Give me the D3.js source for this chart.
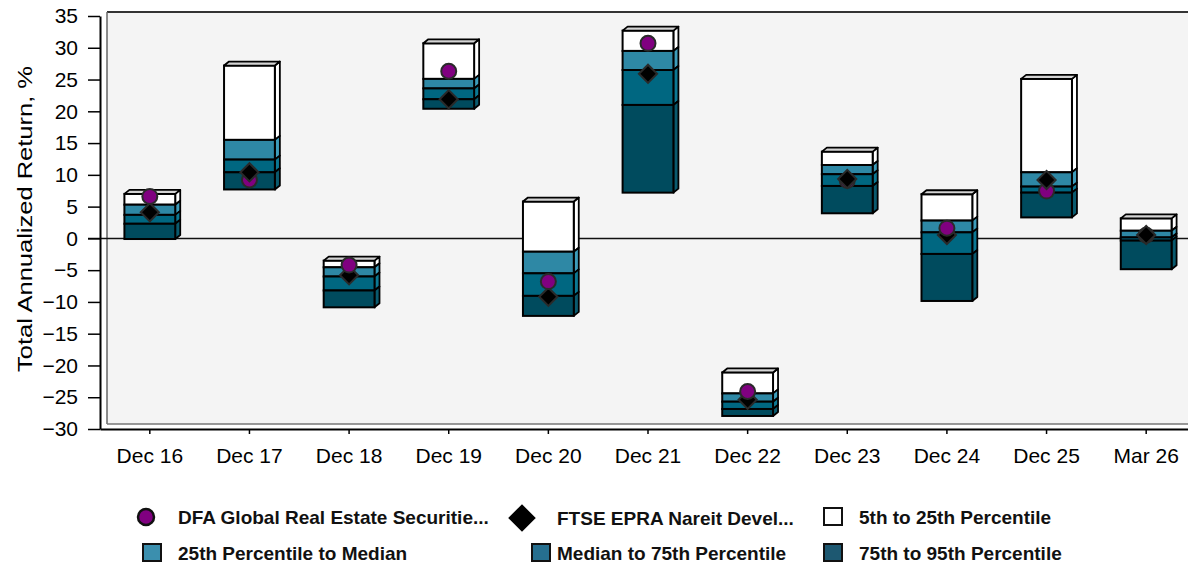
<!DOCTYPE html>
<html>
<head>
<meta charset="utf-8">
<script src="https://cdn.jsdelivr.net/npm/d3@7"></script>
<style>
  body { margin: 0; background: #fff; }
  svg { display: block; font-family: "Liberation Sans", Arial, sans-serif; }
</style>
</head>
<body>
<script>
// categories and percentile boundaries (top of bar = 5th percentile)
const categories = ["Dec 16", "Dec 17", "Dec 18", "Dec 19", "Dec 20", "Dec 21", "Dec 22", "Dec 23", "Dec 24", "Dec 25", "Mar 26"];
const p5 = [7.0, 27.2, -3.5, 30.7, 5.8, 32.7, -21.1, 13.65, 6.95, 25.1, 3.15];
const p25 = [5.3, 15.5, -4.55, 25.1, -2.1, 29.5, -24.4, 11.55, 2.8, 10.4, 1.2];
const median = [3.7, 12.4, -6.0, 23.6, -5.5, 26.5, -25.7, 10.1, 0.95, 8.15, 0.15];
const p75 = [2.3, 10.4, -8.2, 21.9, -9.05, 21.0, -26.85, 8.25, -2.45, 7.2, -0.35];
const p95 = [-0.1, 7.7, -10.85, 20.4, -12.2, 7.2, -27.95, 3.95, -9.85, 3.3, -4.85];
const fundReturns = [6.6, 9.2, -4.2, 26.3, -6.8, 30.7, -24.1, 9.1, 1.6, 7.45, 0.5];
const indexReturns = [4.1, 10.4, -5.8, 21.9, -9.2, 25.9, -25.4, 9.35, 0.55, 9.2, 0.55];
const yTicks = [-30, -25, -20, -15, -10, -5, 0, 5, 10, 15, 20, 25, 30, 35];

const seriesNames = ["DFA Global Real Estate Securitie...", "FTSE EPRA Nareit Devel..."];
const bandNames = ["5th to 25th Percentile", "25th Percentile to Median", "Median to 75th Percentile", "75th to 95th Percentile"];

// colours for each band: front, side, legend swatch
const bandFront = ["#ffffff", "#2e88a5", "#006781", "#004b5e"];
const bandSide = ["#ffffff", "#3d9cba", "#0c7893", "#0a5a6e"];
const bandSwatch = ["#ffffff", "#3b8fae", "#266f8f", "#1d5871"];

const width = 1188, height = 566;
const depthX = 5, depthY = 4;

const svg = d3.select('body').append('svg')
  .attr('width', width)
  .attr('height', height);

const x = d3.scaleBand()
  .domain(categories)
  .range([100, 1196])
  .paddingInner(0.49)
  .paddingOuter(0.245);

const y = d3.scaleLinear()
  .domain([-30, 35])
  .range([429, 16]);

// back wall of the plot
svg.append('rect')
  .attr('x', 107).attr('y', 12)
  .attr('width', width - 107).attr('height', 412)
  .attr('fill', '#f4f4f4');
svg.append('line')
  .attr('x1', 107).attr('x2', width).attr('y1', 12).attr('y2', 12)
  .attr('stroke', '#333').attr('stroke-width', 2);
svg.append('line')
  .attr('x1', 107).attr('x2', 107).attr('y1', 12).attr('y2', 424)
  .attr('stroke', '#666').attr('stroke-width', 1.5);
svg.append('line')
  .attr('x1', 107).attr('x2', width).attr('y1', 424).attr('y2', 424)
  .attr('stroke', '#777').attr('stroke-width', 1.5);

// zero line
svg.append('line')
  .attr('x1', 88).attr('x2', width)
  .attr('y1', y(0)).attr('y2', y(0))
  .attr('stroke', '#111').attr('stroke-width', 1.5);

// build the stacked segments for each category
const bars = categories.map((c, i) => {
  const edges = [p5[i], p25[i], median[i], p75[i], p95[i]];
  return {
    cat: c,
    segments: d3.range(4).map(k => ({ band: k, top: edges[k], bottom: edges[k + 1] }))
  };
});

const barW = x.bandwidth();

const barGroups = svg.append('g').selectAll('g')
  .data(bars)
  .join('g')
  .attr('transform', d => `translate(${x(d.cat)},0)`);

barGroups.each(function(d) {
  const g = d3.select(this);
  d.segments.forEach(s => {
    const yt = y(s.top), yb = y(s.bottom);
    // side face
    g.append('path')
      .attr('d', `M${barW},${yt}L${barW + depthX},${yt - depthY}L${barW + depthX},${yb - depthY}L${barW},${yb}Z`)
      .attr('fill', bandSide[s.band])
      .attr('stroke', '#000').attr('stroke-width', 1.8).attr('stroke-linejoin', 'round');
    // front face
    g.append('rect')
      .attr('x', 0).attr('y', yt)
      .attr('width', barW).attr('height', yb - yt)
      .attr('fill', bandFront[s.band])
      .attr('stroke', '#000').attr('stroke-width', 2);
  });
  // top face
  const yt = y(d.segments[0].top);
  g.append('path')
    .attr('d', `M0,${yt}L${depthX},${yt - depthY}L${barW + depthX},${yt - depthY}L${barW},${yt}Z`)
    .attr('fill', '#d4d4d4')
    .attr('stroke', '#000').attr('stroke-width', 1.8).attr('stroke-linejoin', 'round');
});

// markers: the higher one is drawn last
const diamond = d3.symbol().type(d3.symbolSquare).size(165);
const markers = categories.flatMap((c, i) => {
  return [
    { cat: c, kind: 'fund', v: fundReturns[i] },
    { cat: c, kind: 'index', v: indexReturns[i] }
  ].sort((a, b) => a.v - b.v);
});

const markerG = svg.append('g');
markers.forEach(m => {
  const cx = x(m.cat) + barW / 2;
  const cy = y(m.v);
  if (m.kind === 'fund') {
    markerG.append('circle')
      .attr('cx', cx).attr('cy', cy).attr('r', 7.5)
      .attr('fill', '#800080')
      .attr('stroke', '#2a2a2a').attr('stroke-width', 2);
  } else {
    markerG.append('path')
      .attr('d', diamond())
      .attr('transform', `translate(${cx},${cy}) rotate(45)`)
      .attr('fill', '#000')
      .attr('stroke', '#2a2a2a').attr('stroke-width', 2);
  }
});

// axes
const yAxis = svg.append('g')
  .attr('transform', 'translate(100,0)')
  .call(d3.axisLeft(y).tickValues(yTicks).tickSize(12).tickPadding(10).tickSizeOuter(0));
yAxis.select('.domain').attr('stroke', '#000').attr('stroke-width', 2);
yAxis.selectAll('.tick line').attr('stroke', '#000').attr('stroke-width', 1.5);
yAxis.selectAll('.tick text')
  .attr('font-size', 21)
  .attr('font-family', '"Liberation Sans", Arial, sans-serif')
  .attr('fill', '#000');

const xAxis = svg.append('g')
  .attr('transform', 'translate(0,429)')
  .call(d3.axisBottom(x).tickSize(5).tickPadding(14).tickSizeOuter(0));
xAxis.select('.domain').attr('stroke', '#000').attr('stroke-width', 2);
xAxis.selectAll('.tick line').attr('stroke', '#000').attr('stroke-width', 1.5);
xAxis.selectAll('.tick text')
  .attr('font-size', 21)
  .attr('font-family', '"Liberation Sans", Arial, sans-serif')
  .attr('fill', '#000');

svg.append('text')
  .attr('transform', 'translate(32,219) rotate(-90)')
  .attr('text-anchor', 'middle')
  .attr('font-size', 20)
  .attr('textLength', 306)
  .attr('lengthAdjust', 'spacingAndGlyphs')
  .text('Total Annualized Return, %');

// legend
const legendItems = [
  { label: seriesNames[0], kind: 'circle', x: 146, y: 517 },
  { label: seriesNames[1], kind: 'diamond', x: 522, y: 518 },
  { label: bandNames[0], kind: 'swatch', band: 0, x: 833, y: 517 },
  { label: bandNames[1], kind: 'swatch', band: 1, x: 152, y: 553 },
  { label: bandNames[2], kind: 'swatch', band: 2, x: 541, y: 553 },
  { label: bandNames[3], kind: 'swatch', band: 3, x: 833, y: 553 }
];
const textX = [178, 557, 859, 178, 557, 859];

const legend = svg.append('g');
legendItems.forEach((it, i) => {
  if (it.kind === 'circle') {
    legend.append('circle')
      .attr('cx', it.x).attr('cy', it.y).attr('r', 8)
      .attr('fill', '#800080').attr('stroke', '#111').attr('stroke-width', 2.5);
  } else if (it.kind === 'diamond') {
    legend.append('path')
      .attr('d', d3.symbol().type(d3.symbolSquare).size(380)())
      .attr('transform', `translate(${it.x},${it.y}) rotate(45)`)
      .attr('fill', '#000');
  } else {
    legend.append('rect')
      .attr('x', it.x - 9).attr('y', it.y - 9)
      .attr('width', 18).attr('height', 17)
      .attr('fill', bandSwatch[it.band])
      .attr('stroke', '#111').attr('stroke-width', 2);
  }
  legend.append('text')
    .attr('x', textX[i]).attr('y', it.y + 7)
    .attr('font-size', 19)
    .attr('font-weight', 'bold')
    .attr('fill', '#111')
    .text(it.label);
});
</script>
</body>
</html>
